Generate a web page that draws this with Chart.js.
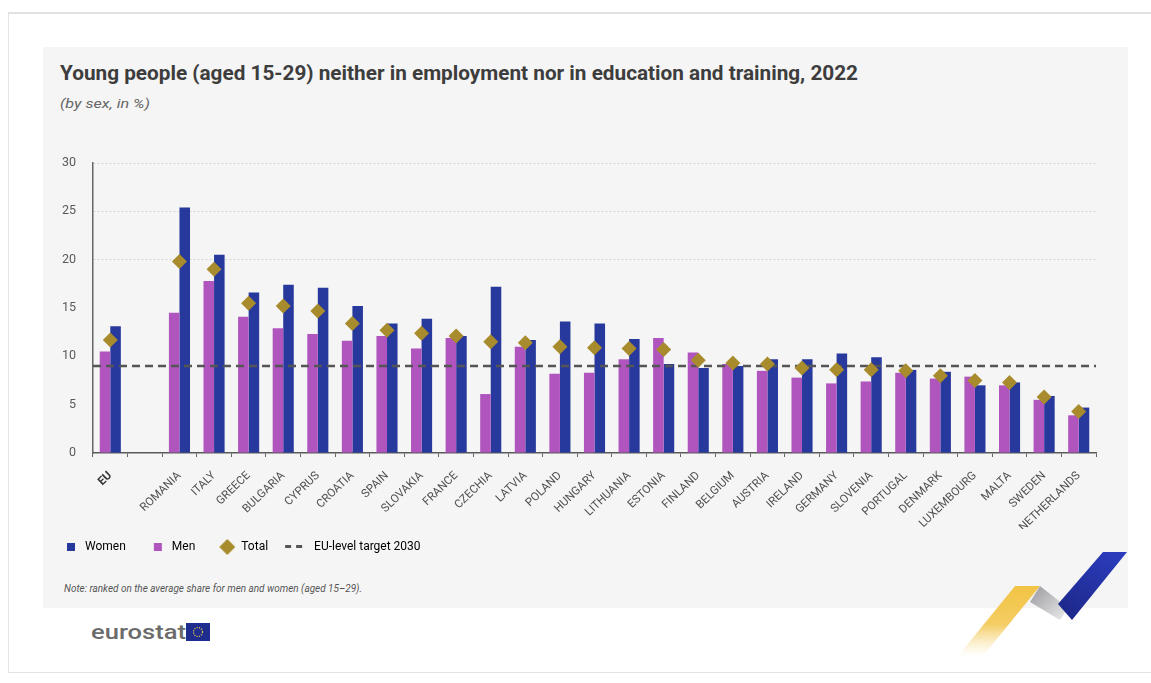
<!DOCTYPE html>
<html>
<head>
<meta charset="utf-8">
<script src="https://cdn.jsdelivr.net/npm/chart.js@4/dist/chart.umd.min.js"></script>
<style>
  html, body { margin: 0; padding: 0; background: #ffffff; }
  body { width: 1151px; height: 683px; position: relative; overflow: hidden; font-family: Roboto, 'Noto Sans', sans-serif; }
  .frame { position: absolute; left: 8px; top: 12px; width: 1160px; height: 658px; border: 1px solid #e4e4e4; border-top: 2px solid #e2e2e2; }
  .panel { position: absolute; left: 43px; top: 47px; width: 1085px; height: 561px; background: #f5f5f5; }
  .fit { position: absolute; white-space: nowrap; transform-origin: 0 0; }
  .title { left: 60px; top: 61px; font-size: 21px; line-height: 24px; font-weight: 700; color: #3d3d3d; }
  .subtitle { left: 60px; top: 96px; font-size: 12.5px; line-height: 16px; font-style: italic; color: #666; }
  .note { left: 64px; top: 582px; font-size: 10.5px; line-height: 14px; font-style: italic; color: #555; }
  .logo { left: 91px; top: 619px; font-size: 20px; line-height: 26px; font-weight: 500; color: #6b6b6b; }
  #wrap { position: absolute; left: 30px; top: 130px; width: 1098px; height: 433px; }
  svg.deco { position: absolute; left: 0; top: 0; }
</style>
</head>
<body>
<div class="frame"></div>
<div class="panel"></div>
<div class="fit title" data-w="798">Young people (aged 15-29) neither in employment nor in education and training, 2022</div>
<div class="fit subtitle" data-w="90">(by sex, in %)</div>
<div id="wrap"><canvas id="neetChart"></canvas></div>
<div class="fit note" data-w="298">Note: ranked on the average share for men and women (aged 15–29).</div>
<div class="fit logo" data-w="95">eurostat</div>

<svg class="deco" width="1151" height="683" viewBox="0 0 1151 683">
  <defs>
    <linearGradient id="gYellow" x1="0" y1="586" x2="0" y2="656" gradientUnits="userSpaceOnUse">
      <stop offset="0" stop-color="#f2c445"/>
      <stop offset="0.55" stop-color="#f4cd63"/>
      <stop offset="1" stop-color="#ffffff" stop-opacity="0.6"/>
    </linearGradient>
    <linearGradient id="gGrey" x1="1040" y1="590" x2="1066" y2="618" gradientUnits="userSpaceOnUse">
      <stop offset="0" stop-color="#a9a9ad"/>
      <stop offset="1" stop-color="#e8e8ea"/>
    </linearGradient>
    <linearGradient id="gBlue" x1="1110" y1="552" x2="1066" y2="620" gradientUnits="userSpaceOnUse">
      <stop offset="0" stop-color="#2b3bbb"/>
      <stop offset="1" stop-color="#1d2788"/>
    </linearGradient>
  </defs>
  <polygon points="1015,586 1040,586 983,656 958,656" fill="url(#gYellow)"/>
  <polygon points="1030,602 1040,586 1068,608 1060,620" fill="url(#gGrey)"/>
  <polygon points="1103,552 1127,552 1072,620 1058,604" fill="url(#gBlue)"/>
  <!-- EU flag next to the eurostat wordmark -->
  <rect x="186" y="623" width="24" height="18" fill="#1f2e8e"/>
  <circle cx="198" cy="632" r="4.5" fill="none" stroke="#e8c64a" stroke-width="1.2" stroke-dasharray="1.2 1.2"/>
</svg>

<script>
const COUNTRIES = ['EU', '', 'ROMANIA', 'ITALY', 'GREECE', 'BULGARIA', 'CYPRUS', 'CROATIA', 'SPAIN',
  'SLOVAKIA', 'FRANCE', 'CZECHIA', 'LATVIA', 'POLAND', 'HUNGARY', 'LITHUANIA', 'ESTONIA', 'FINLAND',
  'BELGIUM', 'AUSTRIA', 'IRELAND', 'GERMANY', 'SLOVENIA', 'PORTUGAL', 'DENMARK', 'LUXEMBOURG',
  'MALTA', 'SWEDEN', 'NETHERLANDS'];

const WOMEN = [13.1, null, 25.4, 20.5, 16.6, 17.4, 17.1, 15.2, 13.4, 13.9, 12.1, 17.2, 11.7, 13.6,
  13.4, 11.8, 9.2, 8.8, 9.0, 9.7, 9.7, 10.3, 9.9, 8.6, 8.4, 7.0, 7.3, 5.9, 4.7];

const MEN = [10.5, null, 14.5, 17.8, 14.1, 12.9, 12.3, 11.6, 12.1, 10.8, 11.9, 6.1, 11.0, 8.2,
  8.3, 9.7, 11.9, 10.4, 9.2, 8.5, 7.8, 7.2, 7.4, 8.3, 7.7, 7.9, 7.0, 5.5, 3.9];

const TOTAL = [11.7, null, 19.8, 19.0, 15.5, 15.2, 14.7, 13.4, 12.7, 12.4, 12.1, 11.5, 11.4, 11.0,
  10.9, 10.8, 10.7, 9.6, 9.3, 9.2, 8.8, 8.6, 8.6, 8.5, 8.0, 7.5, 7.3, 5.8, 4.3];

const EU_TARGET_2030 = 9;
const Y_TICKS = [0, 5, 10, 15, 20, 25, 30];

const COLORS = {
  women: '#27399c',
  men: '#b055be',
  total: '#a88b2c',
  target: '#555555'
};

// squeeze the html texts to the width they have in the picture
document.querySelectorAll('.fit').forEach(el => {
  const w = el.getBoundingClientRect().width;
  el.style.transform = 'scaleX(' + (el.dataset.w / w) + ')';
});

// legend icons: 28px wide canvases, the glyph sits in the right part
function makeIcon(h, draw) {
  const c = document.createElement('canvas');
  c.width = 28;
  c.height = h;
  draw(c.getContext('2d'));
  return c;
}

const ICONS = {
  women: makeIcon(8, g => { g.fillStyle = COLORS.women; g.fillRect(16, 0, 8, 8); }),
  men: makeIcon(8, g => { g.fillStyle = COLORS.men; g.fillRect(16, 0, 8, 8); }),
  total: makeIcon(16, g => {
    g.fillStyle = COLORS.total;
    g.beginPath();
    g.moveTo(20, 0); g.lineTo(28, 8); g.lineTo(20, 16); g.lineTo(12, 8);
    g.closePath();
    g.fill();
  }),
  target: makeIcon(4, g => {
    g.fillStyle = COLORS.target;
    g.fillRect(5, 0, 6, 3);
    g.fillRect(16, 0, 6, 3);
  })
};

const LEGEND_ITEMS = [
  { text: 'Women', icon: ICONS.women, datasetIndex: 2 },
  { text: 'Men', icon: ICONS.men, datasetIndex: 1 },
  { text: 'Total', icon: ICONS.total, datasetIndex: 0 },
  { text: 'EU-level target 2030', icon: ICONS.target }
];

// dashed EU target across the whole plot, painted over the bars and under the diamonds
const targetLine = {
  id: 'targetLine',
  beforeDatasetDraw(chart, args) {
    if (args.index !== 0) return;
    const { ctx, chartArea, scales } = chart;
    const y = scales.y.getPixelForValue(EU_TARGET_2030);
    ctx.save();
    ctx.strokeStyle = COLORS.target;
    ctx.lineWidth = 2.5;
    ctx.setLineDash([8, 5]);
    ctx.beginPath();
    ctx.moveTo(chartArea.left, y);
    ctx.lineTo(chartArea.right, y);
    ctx.stroke();
    ctx.restore();
  }
};

new Chart(document.getElementById('neetChart'), {
  type: 'bar',
  data: {
    labels: COUNTRIES,
    datasets: [
      {
        type: 'line',
        label: 'Total',
        data: TOTAL,
        showLine: false,
        pointStyle: 'rectRot',
        pointRadius: 7.5,
        pointHoverRadius: 7.5,
        pointBackgroundColor: COLORS.total,
        pointBorderWidth: 0
      },
      {
        label: 'Men',
        data: MEN,
        backgroundColor: COLORS.men
      },
      {
        label: 'Women',
        data: WOMEN,
        backgroundColor: COLORS.women
      }
    ]
  },
  options: {
    responsive: true,
    maintainAspectRatio: false,
    animation: false,
    datasets: {
      bar: { categoryPercentage: 0.61, barPercentage: 1.0 }
    },
    layout: {
      padding: { left: 9, right: 32, top: 33, bottom: 0 }
    },
    scales: {
      x: {
        afterFit(scale) { scale.height = 76; },
        grid: {
          drawOnChartArea: false,
          drawTicks: true,
          tickLength: 4,
          color: '#666666'
        },
        border: { color: '#5a5a5a', width: 1.5 },
        ticks: {
          autoSkip: false,
          minRotation: 44,
          maxRotation: 44,
          padding: 12,
          color: ctx => ctx.index === 0 ? '#333333' : '#505050',
          font: ctx => ({ family: 'Roboto', size: 11.5, weight: ctx.index === 0 ? '700' : '400' })
        }
      },
      y: {
        min: 0,
        max: 30,
        afterFit(scale) { scale.width = 54; },
        afterBuildTicks(scale) { scale.ticks = Y_TICKS.map(v => ({ value: v })); },
        grid: {
          drawTicks: false,
          color: ctx => (ctx.tick && ctx.tick.value >= 20) ? '#d6d6d6' : 'rgba(0,0,0,0)',
          lineWidth: 1
        },
        border: { color: '#666666', width: 1.5, dash: [2, 2] },
        ticks: {
          padding: 17,
          color: '#5a5a5a',
          font: { family: 'Roboto', size: 12.5 }
        }
      }
    },
    plugins: {
      tooltip: { enabled: false },
      legend: {
        position: 'bottom',
        align: 'start',
        onClick: () => {},
        labels: {
          usePointStyle: true,
          pointStyleWidth: 28,
          padding: 12,
          color: '#555555',
          font: { family: 'Roboto', size: 12 },
          generateLabels: () => LEGEND_ITEMS.map(item => ({
            text: item.text,
            pointStyle: item.icon,
            fillStyle: 'transparent',
            strokeStyle: 'transparent',
            lineWidth: 0,
            hidden: false,
            datasetIndex: item.datasetIndex
          }))
        }
      }
    }
  },
  plugins: [targetLine]
});
</script>
</body>
</html>
